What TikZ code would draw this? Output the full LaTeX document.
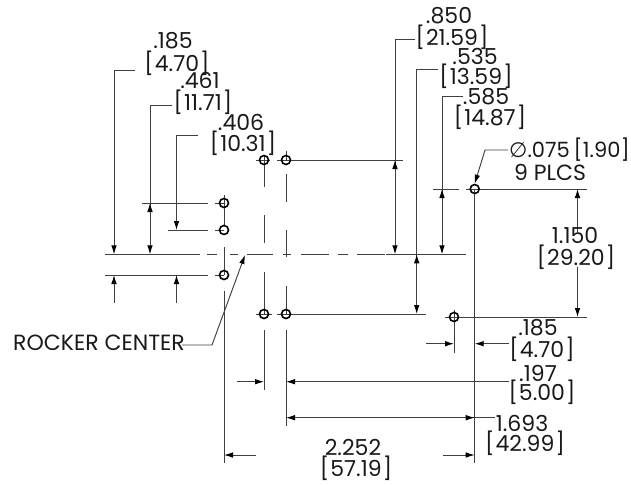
\documentclass[tikz,border=0pt]{standalone}
\usepackage{fontspec}
\setmainfont{Poppins}
\newfontfamily\symfont{DejaVu Sans}
\usetikzlibrary{arrows.meta}
\newcommand{\br}[1]{[\kern1.1pt#1\kern1.1pt]}
\tikzset{
  x=1pt,y=-1pt,
  ln/.style={draw=black!75,line width=0.95pt},
  dim/.style={ln,-{Latex[black,length=9pt,width=5.6pt]}},
  hole/.style={circle,draw=black,line width=1.6pt,minimum size=9pt,inner sep=0pt},
  lbl/.style={inner sep=0pt,font=\fontsize{22}{22}\selectfont,text=black!90}
}
\begin{document}
\begin{tikzpicture}
\useasboundingbox (0,0) rectangle (631,485);
% centre line
\draw[ln] (105,254.3)--(200,254.3) (207,254.3)--(217,254.3) (230,254.3)--(238,254.3) (247,254.3)--(273,254.3) (283,254.3)--(291,254.3) (301,254.3)--(329,254.3) (338,254.3)--(348,254.3) (357,254.3)--(385,254.3) (386,254.3)--(466,254.3);
% vertical centre marks
\draw[ln] (224,195)--(224,225);
\draw[ln] (224,247)--(224,275) (224,291)--(224,463);
\draw[ln] (264,155)--(264,187) (264,215)--(264,243) (264,272)--(264,314) (264,330)--(264,390);
\draw[ln] (286,151)--(286,160) (286,174)--(286,202) (286,230)--(286,257) (286,286)--(286,314) (286,330)--(286,426);
\draw[ln] (474.7,189)--(474.7,463);
\draw[ln] (454,310)--(454,353);
% horizontal extension lines
\draw[ln] (142,203)--(208,203) (215,203)--(224,203);
\draw[ln] (168,230)--(208,230) (215,230)--(224,230);
\draw[ln] (105,275)--(208,275) (215,275)--(224,275);
\draw[ln] (256,160)--(270,160) (277,160)--(403,160);
\draw[ln] (256,314)--(272,314) (277,314)--(426,314);
\draw[ln] (433,189)--(459,189) (466,189)--(587,189);
\draw[ln] (445,317)--(587,317);
% holes
\node[hole] (h1) at (264,160) {};
\node[hole] (h2) at (286,160) {};
\node[hole] (h3) at (224,203) {};
\node[hole] (h4) at (224,230) {};
\node[hole] (h5) at (224,275) {};
\node[hole] (h6) at (264,314) {};
\node[hole] (h7) at (286,314) {};
\node[hole] (h8) at (474.7,189) {};
\node[hole] (h9) at (454,317) {};
% left dims
\draw[dim] (135,70)--(114,70)--(114,254.3);
\draw[dim] (172,105)--(150,105)--(150,254.3);
\draw[dim] (150,225)--(150,203);
\draw[dim] (198,135)--(176.5,135)--(176.5,230);
\draw[dim] (114,303)--(114,275);
\draw[dim] (176.5,303)--(176.5,275);
% right dims
\draw[dim] (415,39.5)--(395,39.5)--(395,254.3);
\draw[dim] (395,200)--(395,160);
\draw[dim] (438,69)--(416.7,69)--(416.7,314);
\draw[dim] (416.7,290)--(416.7,254.3);
\draw[dim] (463,96.7)--(442,96.7)--(442,254.3);
\draw[dim] (442,220)--(442,189);
\draw[dim] (577.5,232)--(577.5,189);
\draw[dim] (577.5,267)--(577.5,317);
% bottom dims
\draw[dim] (426,343.7)--(454,343.7);
\draw[dim] (509,343.7)--(474.7,343.7);
\draw[dim] (237,381.7)--(264,381.7);
\draw[dim] (509,381.7)--(286,381.7);
\draw[dim] (495,417.7)--(286,417.7);
\draw[dim] (400,417.7)--(474.7,417.7);
\draw[dim] (256,455)--(224,455);
\draw[dim] (443,455)--(474.7,455);
% leaders
\draw[dim] (508,150)--(485,150)--(h8.north);
\draw[dim] (182,345)--(212,345)--(245,255);
% labels
\node[lbl] (a1) at (173,41) {.185};
\node[lbl] (a2) at (177,63.5) {\br{4.70}};
\node[lbl] (b1) at (200,80) {.461};
\node[lbl] (b2) at (203,102.5) {\br{11.71}};
\node[lbl] (c1) at (241,122.5) {.406};
\node[lbl] (c2) at (243,143.5) {\br{10.31}};
\node[lbl] (d1) at (449,16) {.850};
\node[lbl] (d2) at (452,37.5) {\br{21.59}};
\node[lbl] (e1) at (475,56) {.535};
\node[lbl] (e2) at (476,76.5) {\br{13.59}};
\node[lbl] (f1) at (486,97) {.585};
\node[lbl] (f2) at (490,117.5) {\br{14.87}};
\node[lbl,anchor=west,font=\fontsize{21}{21}\selectfont] (g1) at (509,150) {{\symfont ∅}.075\kern4pt[\kern.3pt 1.90\kern.3pt]};
\node[lbl] (g2) at (550,172) {9 PLCS};
\node[lbl] (i1) at (575,235) {1.150};
\node[lbl] (i2) at (576,257.5) {\br{29.20}};
\node[lbl] (j1) at (538,328) {.185};
\node[lbl] (j2) at (542,349.5) {\br{4.70}};
\node[lbl] (k1) at (538,373) {.197};
\node[lbl] (k2) at (542,392.5) {\br{5.00}};
\node[lbl] (l1) at (522,423) {1.693};
\node[lbl] (l2) at (525,443.5) {\br{42.99}};
\node[lbl] (m1) at (353,447) {2.252};
\node[lbl] (m2) at (356,468.5) {\br{57.19}};
\node[lbl,anchor=west] (r) at (13,343) {ROCKER CENTER};
\end{tikzpicture}
\end{document}
